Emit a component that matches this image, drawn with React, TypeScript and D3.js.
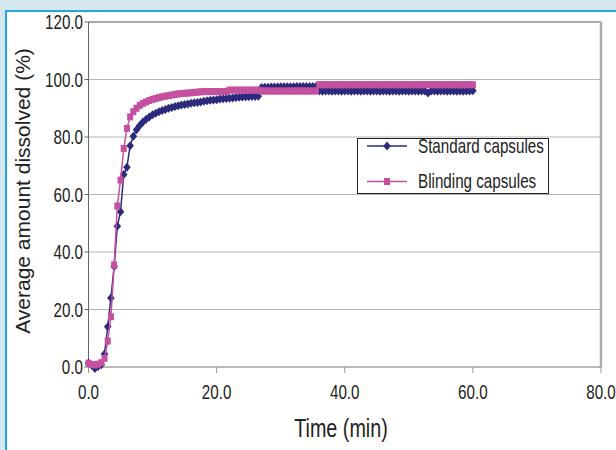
import React from 'react';
import * as d3 from 'd3';

// sampling times (min)
const times = [
  0, 0.5, 1, 1.5, 2, 2.5, 3, 3.5, 4, 4.5, 5, 5.5, 6, 6.5, 7, 7.5, 8, 8.5, 9, 9.5,
  10, 10.5, 11, 11.5, 12, 12.5, 13, 13.5, 14, 14.5, 15, 15.5, 16, 16.5, 17, 17.5, 18, 18.5, 19, 19.5,
  20, 20.5, 21, 21.5, 22, 22.5, 23, 23.5, 24, 24.5, 25, 25.5, 26, 26.5, 27, 27.5, 28, 28.5, 29, 29.5,
  30, 30.5, 31, 31.5, 32, 32.5, 33, 33.5, 34, 34.5, 35, 35.5, 36, 36.5, 37, 37.5, 38, 38.5, 39, 39.5,
  40, 40.5, 41, 41.5, 42, 42.5, 43, 43.5, 44, 44.5, 45, 45.5, 46, 46.5, 47, 47.5, 48, 48.5, 49, 49.5,
  50, 50.5, 51, 51.5, 52, 52.5, 53, 53.5, 54, 54.5, 55, 55.5, 56, 56.5, 57, 57.5, 58, 58.5, 59, 59.5,
  60,
];

const standard = [
  1.4, 0.6, -0.5, 0.2, 0.8, 4.5, 14.0, 24.0, 35.0, 49.0,
  54.0, 67.0, 69.5, 77.0, 80.3, 82.5, 84.0, 85.2, 86.2, 87.0,
  87.7, 88.3, 88.8, 89.2, 89.6, 90.0, 90.3, 90.6, 90.9, 91.1,
  91.3, 91.5, 91.7, 91.9, 92.0, 92.2, 92.4, 92.6, 92.8, 92.9,
  93.0, 93.2, 93.3, 93.4, 93.5, 93.6, 93.7, 93.8, 93.9, 94.0,
  94.0, 94.1, 94.1, 94.2,
  97.2, 97.3, 97.3, 97.4, 97.4, 97.4, 97.5, 97.5, 97.5, 97.5,
  97.5, 97.6, 97.6, 97.6, 97.6, 97.6, 97.6, 97.6,
  96.0, 95.9, 96.0, 96.0, 95.9, 96.0, 96.0, 95.9, 96.0, 96.0,
  95.9, 96.0, 96.0, 95.9, 96.0, 96.0, 95.9, 96.0, 96.0, 95.9,
  96.0, 96.0, 95.9, 96.0, 96.0, 95.9, 96.0, 96.0, 95.9, 96.0,
  96.0, 95.9, 96.0, 96.0, 95.3, 96.0, 96.0, 95.9, 96.0, 96.0,
  95.9, 96.0, 96.0, 95.9, 96.0, 95.9, 96.0, 96.0, 96.1,
];

const blinding = [
  1.3, 0.9, 0.7, 1.0, 1.5, 3.0, 9.0, 17.5, 35.5, 56.0,
  65.0, 76.0, 83.0, 87.0, 88.8, 90.0, 91.0, 91.7, 92.2, 92.7,
  93.1, 93.4, 93.7, 94.0, 94.2, 94.4, 94.6, 94.8, 95.0, 95.1,
  95.2, 95.3, 95.4, 95.5, 95.6, 95.7,
  95.8, 95.8, 95.8, 95.8, 95.8, 95.8, 95.8, 95.8,
  96.3, 96.3, 96.3, 96.3, 96.3, 96.3, 96.3, 96.3, 96.3, 96.3,
  96.0, 96.0, 96.0, 96.0, 96.0, 96.0, 96.0, 96.0, 96.0, 96.0,
  96.0, 96.0, 96.0, 96.0, 96.0, 96.0, 96.0, 96.0,
  98.2, 98.2, 98.2, 98.2, 98.2, 98.2, 98.2, 98.2, 98.2, 98.2,
  98.2, 98.2, 98.2, 98.2, 98.2, 98.2, 98.2, 98.2, 98.2, 98.2,
  98.2, 98.2, 98.2, 98.2, 98.2, 98.2, 98.2, 98.2, 98.2, 98.2,
  98.2, 98.2, 98.2, 98.2, 98.2, 98.2, 98.2, 98.2, 98.2, 98.2,
  98.2, 98.2, 98.2, 98.2, 98.2, 98.2, 98.2, 98.2, 98.2,
];

const xTicks = [0, 20, 40, 60, 80];
const yTicks = [0, 20, 40, 60, 80, 100, 120];
const seriesNames = ['Standard capsules', 'Blinding capsules'];

const BLUE = '#2c2a7c';
const PINK = '#c4509f';
const FONT = '"Liberation Sans", Arial, sans-serif';
const SX = 0.76; // glyphs in the picture are narrow

function Txt({ x, y, size, anchor = 'start', children }: any) {
  return (
    <text
      transform={`translate(${x},${y}) scale(${SX},1)`}
      fontSize={size}
      textAnchor={anchor}
      fill="#222"
      fontFamily={FONT}
    >
      {children}
    </text>
  );
}

const diamond = 'M0,-4.5L3.8,0L0,4.5L-3.8,0Z';

export default function App() {
  const x = d3.scaleLinear().domain([0, 80]).range([88.5, 601]);
  const y = d3.scaleLinear().domain([0, 120]).range([367, 22]);

  const line = d3
    .line<number>()
    .x((_, i) => x(times[i]))
    .y((d) => y(d));

  const [x0, x1] = x.range();
  const [y0, y1] = y.range();

  return (
    <svg
      width={616}
      height={450}
      style={{ position: 'absolute', left: 0, top: 0 }}
    >
      <rect width={616} height={450} fill="#d5e8ef" />
      <rect x={6} y={11} width={640} height={480} fill="#fff" stroke="#22a7d6" strokeWidth={2} />

      {/* gridlines */}
      {yTicks.map((t) => (
        <line key={t} x1={x0} x2={x1} y1={y(t)} y2={y(t)} stroke="#b4b4b4" strokeWidth={1} />
      ))}
      {/* frame */}
      <line x1={x1} x2={x1} y1={y1} y2={y0} stroke="#aaa" strokeWidth={2.5} />
      <line x1={x0} x2={x1} y1={y1} y2={y1} stroke="#aaa" strokeWidth={2} />
      <line x1={x0} x2={x0} y1={y1} y2={y0 + 1} stroke="#666" strokeWidth={1} />
      <line x1={x0} x2={x1} y1={y0} y2={y0} stroke="#999" strokeWidth={1} />

      {/* ticks */}
      {yTicks.map((t) => (
        <g key={t}>
          <line x1={x0 - 4} x2={x0} y1={y(t)} y2={y(t)} stroke="#666" />
          <Txt x={83} y={y(t) + 7} size={20} anchor="end">
            {t.toFixed(1)}
          </Txt>
        </g>
      ))}
      {xTicks.map((t) => (
        <g key={t}>
          <line x1={x(t)} x2={x(t)} y1={y0} y2={y0 + 6} stroke="#999" />
          <Txt x={x(t)} y={399} size={20} anchor="middle">
            {t.toFixed(1)}
          </Txt>
        </g>
      ))}

      {/* titles */}
      <Txt x={341} y={437} size={26} anchor="middle">
        Time (min)
      </Txt>
      <text
        transform={`translate(30,191) rotate(-90)`}
        fontSize={21}
        textAnchor="middle"
        fill="#222"
        fontFamily={FONT}
      >
        Average amount dissolved (%)
      </text>

      {/* series */}
      <path d={line(standard) || ''} fill="none" stroke={BLUE} strokeWidth={1.5} />
      {standard.map((v, i) => (
        <path key={i} d={diamond} transform={`translate(${x(times[i])},${y(v)})`} fill={BLUE} />
      ))}
      <path d={line(blinding) || ''} fill="none" stroke={PINK} strokeWidth={1.5} />
      {blinding.map((v, i) => (
        <rect key={i} x={x(times[i]) - 3} y={y(v) - 3.5} width={6} height={7} fill={PINK} />
      ))}

      {/* legend */}
      <rect x={357.5} y={138.5} width={191} height={55} fill="#fff" stroke="#222" strokeWidth={1} />
      <line x1={367} x2={407} y1={146} y2={146} stroke={BLUE} strokeWidth={1.5} />
      <path d={diamond} transform="translate(387,146)" fill={BLUE} />
      <Txt x={418} y={153} size={20}>
        {seriesNames[0]}
      </Txt>
      <line x1={367} x2={407} y1={181.5} y2={181.5} stroke={PINK} strokeWidth={1.5} />
      <rect x={384} y={178} width={6} height={7} fill={PINK} />
      <Txt x={418} y={188} size={20}>
        {seriesNames[1]}
      </Txt>
    </svg>
  );
}
